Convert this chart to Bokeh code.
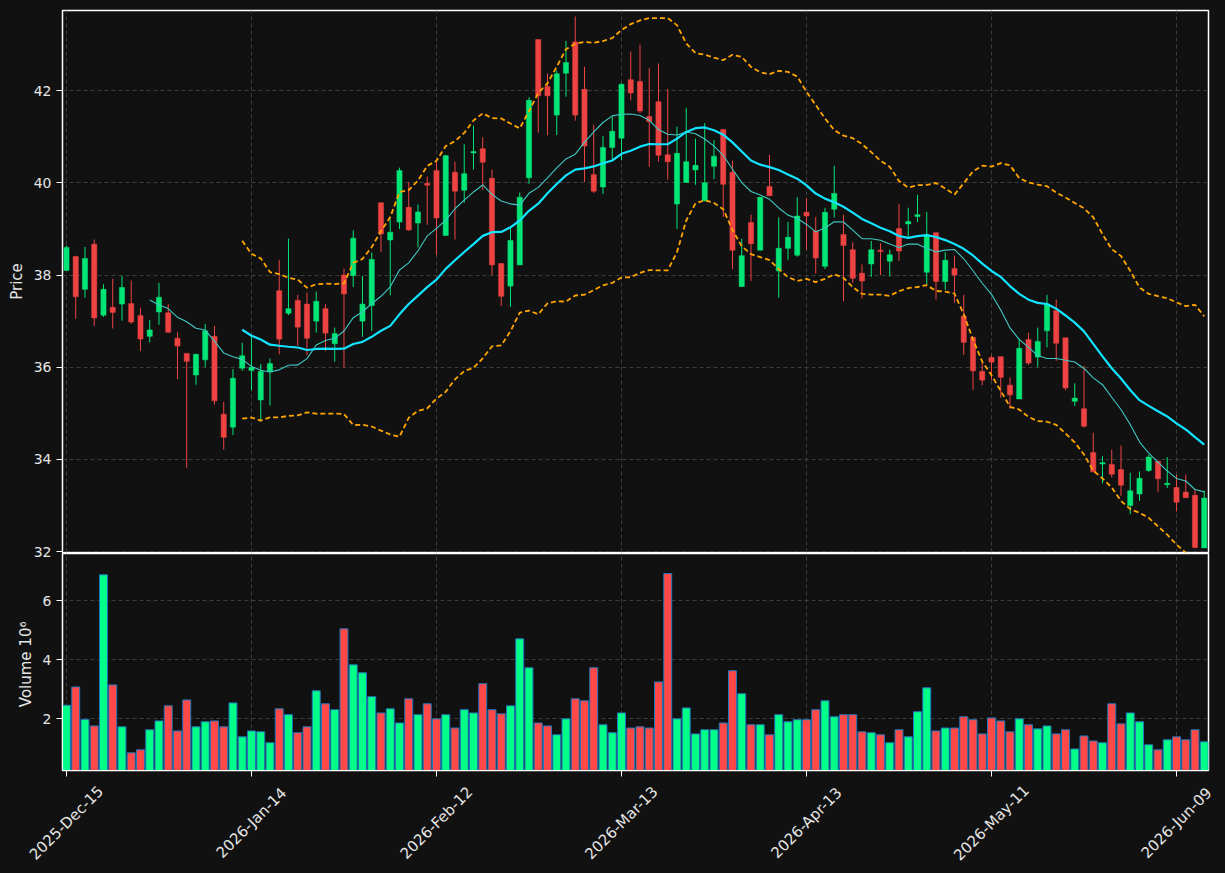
import math
import pandas as pd
from bokeh.plotting import figure
from bokeh.layouts import column
from bokeh.models import Range1d, FixedTicker, ColumnDataSource
from bokeh.core.properties import value
from bokeh.embed import file_html
from bokeh.resources import INLINE

# ---------------- data ----------------
opens = [38.10, 38.40, 37.69, 38.67, 37.13, 37.30, 37.37, 37.38, 37.12, 36.67,
         37.20, 37.18, 36.63, 36.30, 35.83, 36.16, 36.67, 34.98, 34.70, 35.98,
         35.93, 35.29, 35.90, 37.66, 37.17, 37.45, 37.37, 37.00, 37.27, 36.51,
         38.00, 37.99, 37.00, 37.34, 39.57, 38.76, 39.15, 39.47, 39.13, 39.99,
         40.27, 38.86, 40.23, 39.84, 40.65, 40.74, 40.10, 38.25, 37.76, 38.22,
         40.11, 43.11, 42.09, 41.47, 42.38, 43.06, 42.03, 40.18, 39.91, 40.77,
         40.97, 42.24, 42.20, 41.44, 41.76, 40.61, 39.54, 40.01, 40.28, 39.61,
         40.36, 41.16, 40.23, 37.75, 39.14, 38.54, 39.92, 38.09, 38.58, 38.43,
         39.36, 38.96, 38.19, 39.43, 38.88, 38.55, 38.04, 38.24, 38.54, 38.30,
         39.01, 39.11, 39.27, 38.06, 38.92, 37.86, 38.14, 37.11, 36.65, 35.91,
         36.21, 36.23, 35.61, 35.31, 36.60, 36.22, 36.79, 37.23, 36.64, 35.26,
         35.10, 34.15, 33.90, 33.89, 33.78, 33.00, 33.25, 33.76, 33.96, 33.45,
         33.39, 33.29, 33.22, 32.08]
highs = [38.64, 38.42, 38.61, 38.77, 37.80, 37.92, 37.98, 37.88, 37.29, 37.03,
         37.83, 37.37, 36.77, 36.30, 36.29, 36.94, 36.90, 35.25, 35.96, 36.53,
         36.70, 36.07, 36.19, 38.33, 38.79, 37.57, 37.62, 37.64, 37.37, 36.86,
         38.14, 38.97, 37.98, 38.49, 39.57, 39.21, 40.33, 40.02, 39.53, 40.14,
         40.50, 40.61, 40.46, 40.84, 41.24, 40.99, 40.29, 38.25, 39.05, 39.79,
         41.86, 43.11, 42.37, 42.44, 43.08, 43.61, 42.52, 41.26, 41.02, 41.44,
         42.16, 42.85, 43.00, 42.49, 42.59, 42.04, 41.22, 41.63, 40.96, 41.30,
         40.93, 41.16, 40.48, 38.79, 39.31, 39.69, 40.61, 39.25, 39.15, 39.69,
         39.67, 39.26, 39.46, 40.37, 39.31, 38.71, 38.23, 38.74, 38.69, 38.55,
         39.55, 39.46, 39.74, 39.37, 38.92, 38.50, 38.42, 37.57, 36.65, 36.09,
         36.26, 36.23, 35.78, 36.62, 36.75, 36.86, 37.57, 37.47, 36.64, 35.65,
         36.03, 34.58, 34.07, 34.21, 34.30, 33.71, 33.74, 34.10, 33.96, 34.05,
         33.67, 33.67, 33.35, 33.32]
lows = [38.10, 37.05, 37.51, 36.90, 37.09, 36.84, 37.01, 36.94, 36.35, 36.54,
        36.92, 36.74, 35.74, 33.82, 35.62, 36.01, 35.19, 34.21, 34.53, 35.92,
        35.50, 34.82, 35.17, 36.28, 37.13, 36.47, 36.26, 36.75, 36.35, 36.12,
        35.99, 37.74, 36.66, 36.79, 38.50, 37.56, 39.00, 38.96, 38.60, 39.09,
        38.43, 38.85, 38.77, 39.57, 40.29, 39.85, 38.00, 37.33, 37.31, 38.22,
        39.98, 41.09, 41.03, 41.04, 41.87, 41.35, 40.02, 39.78, 39.76, 40.52,
        40.49, 41.79, 41.51, 40.35, 40.46, 40.07, 39.00, 40.01, 39.96, 39.60,
        40.08, 39.26, 38.13, 37.74, 37.87, 38.54, 39.72, 37.51, 38.33, 38.40,
        38.55, 38.03, 38.13, 39.25, 37.43, 37.83, 37.49, 37.96, 38.00, 37.97,
        38.31, 38.83, 39.15, 37.80, 37.47, 37.68, 37.40, 36.27, 35.51, 35.61,
        35.72, 35.34, 35.10, 35.31, 36.05, 36.01, 36.43, 36.14, 35.50, 35.16,
        34.69, 33.73, 33.48, 33.61, 33.21, 32.81, 33.10, 33.73, 33.29, 33.38,
        32.87, 33.17, 32.07, 32.08]
closes = [38.60, 37.53, 38.36, 37.07, 37.69, 37.19, 37.73, 36.98, 36.61, 36.81,
          37.52, 36.76, 36.46, 36.13, 36.28, 36.79, 35.27, 34.48, 35.76, 36.25,
          36.00, 35.91, 36.08, 36.61, 37.27, 36.87, 36.63, 37.43, 36.74, 36.73,
          37.59, 38.80, 37.37, 38.34, 38.89, 38.93, 40.27, 38.98, 39.37, 39.95,
          39.24, 40.59, 39.82, 40.20, 40.68, 40.45, 38.22, 37.54, 38.75, 39.69,
          41.79, 41.89, 41.89, 42.37, 42.61, 41.47, 40.80, 39.82, 40.77, 41.12,
          42.14, 41.95, 41.56, 41.33, 40.60, 40.46, 40.64, 40.46, 40.38, 40.00,
          40.58, 39.97, 38.54, 38.42, 38.68, 39.69, 39.72, 38.58, 38.82, 39.28,
          39.28, 38.37, 39.36, 39.77, 38.64, 37.93, 37.87, 38.55, 38.51, 38.44,
          38.52, 39.16, 39.31, 38.87, 37.86, 38.32, 38.00, 36.54, 35.92, 35.72,
          36.11, 35.78, 35.40, 36.41, 36.09, 36.56, 37.37, 36.52, 35.55, 35.33,
          34.72, 33.73, 33.93, 33.68, 33.44, 33.32, 33.59, 34.05, 33.58, 33.48,
          33.07, 33.17, 32.09, 33.16]
volume_millions = [2.46, 3.08, 1.98, 1.76, 6.88, 3.15, 1.73, 0.85, 0.95, 1.63,
                   1.93, 2.44, 1.59, 2.64, 1.73, 1.90, 1.93, 1.73, 2.54, 1.39,
                   1.59, 1.56, 1.19, 2.34, 2.14, 1.53, 1.73, 2.95, 2.51, 2.31,
                   5.05, 3.83, 3.56, 2.75, 2.20, 2.34, 1.86, 2.68, 2.14, 2.51,
                   2.00, 2.14, 1.69, 2.31, 2.20, 3.19, 2.31, 2.17, 2.44, 4.71,
                   3.73, 1.86, 1.76, 1.46, 2.00, 2.68, 2.61, 3.73, 1.80, 1.53,
                   2.20, 1.69, 1.73, 1.69, 3.25, 6.92, 2.00, 2.37, 1.49, 1.63,
                   1.63, 1.86, 3.63, 2.85, 1.80, 1.80, 1.46, 2.14, 1.90, 1.97,
                   1.97, 2.31, 2.61, 2.07, 2.14, 2.14, 1.56, 1.53, 1.46, 1.19,
                   1.63, 1.39, 2.24, 3.05, 1.59, 1.69, 1.69, 2.07, 1.97, 1.49,
                   2.03, 1.93, 1.56, 2.00, 1.80, 1.66, 1.76, 1.49, 1.63, 0.98,
                   1.42, 1.25, 1.19, 2.51, 1.83, 2.20, 1.90, 1.12, 0.95, 1.29,
                   1.39, 1.29, 1.63, 1.22]
tick_positions = [0, 20, 40, 60, 80, 100, 120]
tick_labels = ["2025-Dec-15", "2026-Jan-14", "2026-Feb-12", "2026-Mar-13",
               "2026-Apr-13", "2026-May-11", "2026-Jun-09"]
price_ticks = [32, 34, 36, 38, 40, 42]
volume_ticks = [2, 4, 6]

# ---------------- derived ----------------
n = len(closes)
df = pd.DataFrame(dict(x=list(range(n)), open=opens, high=highs, low=lows,
                       close=closes, vol=volume_millions))
up = df.close >= df.open
df["body_top"] = df[["open", "close"]].max(axis=1)
df["body_bot"] = df[["open", "close"]].min(axis=1)
df["ccolor"] = ["#00e676" if u else "#ee4343" for u in up]
df["vcolor"] = ["#00ff88" if u else "#ff4848" for u in up]
df["ma10"] = df.close.rolling(10).mean()
df["ma20"] = df.close.rolling(20).mean()
sd = df.close.rolling(20).std(ddof=0)
df["upper"] = df.ma20 + 2 * sd
df["lower"] = df.ma20 - 2 * sd
src = ColumnDataSource(df)

BG = "#111111"
GRID = "#3d3d3d"
TXT = "#e6e6e6"
FONT = "DejaVu Sans"

W = 1225
LEFT, RIGHT = 62, 17
X0, X1 = -0.43, 123.46
x_range = Range1d(X0, X1)


def style(p):
    p.background_fill_color = BG
    p.border_fill_color = BG
    p.outline_line_color = "white"
    p.outline_line_width = 1.5
    for g in p.grid:
        g.grid_line_color = GRID
        g.grid_line_dash = "4 3"
        g.grid_line_width = 1
    for ax in p.axis:
        ax.axis_line_color = "white"
        ax.major_tick_line_color = "white"
        ax.minor_tick_line_color = None
        ax.major_tick_out = 6
        ax.major_tick_in = 0
        ax.major_label_text_color = TXT
        ax.major_label_text_font = FONT
        ax.major_label_text_font_size = "14px"
        ax.axis_label_text_color = TXT
        ax.axis_label_text_font = FONT
        ax.axis_label_text_font_style = "normal"
        ax.axis_label_text_font_size = "15px"


# ---------------- price panel ----------------
p1 = figure(width=W, height=562, x_range=x_range, y_range=Range1d(31.98, 43.74),
            output_backend="svg", toolbar_location=None, x_axis_location=None,
            min_border_left=LEFT, min_border_right=RIGHT, min_border_top=10,
            min_border_bottom=10)
p1.xgrid.ticker = FixedTicker(ticks=tick_positions)
p1.yaxis.ticker = FixedTicker(ticks=price_ticks)
p1.yaxis.axis_label = "Price"
style(p1)

p1.segment(x0="x", y0="high", x1="x", y1="low", color="ccolor", line_width=1, source=src)
p1.vbar(x="x", top="body_top", bottom="body_bot", width=0.56, fill_color="ccolor",
        line_color="ccolor", line_width=0.5, source=src)
p1.line("x", "ma10", source=src, line_color="#3fc9c4", line_width=1.1)
p1.line("x", "ma20", source=src, line_color="#12e4ff", line_width=2.2)
p1.line("x", "upper", source=src, line_color="#ffa500", line_width=1.8, line_dash="5 3")
p1.line("x", "lower", source=src, line_color="#ffa500", line_width=1.8, line_dash="5 3")

# ---------------- volume panel ----------------
p2 = figure(width=W, height=321, x_range=x_range, y_range=Range1d(0.25, 7.6),
            output_backend="svg", toolbar_location=None,
            min_border_left=LEFT, min_border_right=RIGHT, min_border_top=1,
            min_border_bottom=103)
p2.margin = (-10, 0, 0, 0)
p2.xaxis.ticker = FixedTicker(ticks=tick_positions)
p2.xaxis.major_label_overrides = {t: "" for t in tick_positions}
p2.yaxis.ticker = FixedTicker(ticks=volume_ticks)
p2.yaxis.axis_label = "Volume  10\u2076"
style(p2)
p2.xaxis.major_label_text_font_size = "0px"
p2.border_fill_alpha = 0

p2.vbar(x="x", top="vol", bottom=0, width=0.86, fill_color="vcolor",
        line_color="#2176b8", line_width=1, source=src)

# ---------------- date labels (transparent overlay, centred on ticks) ----------------
ppu = (W - LEFT - RIGHT) / (X1 - X0)
p3 = figure(width=W, height=91, x_range=Range1d(X0 - LEFT / ppu, X1 + RIGHT / ppu),
            y_range=Range1d(0, 1), output_backend="svg", toolbar_location=None,
            x_axis_location=None, y_axis_location=None, min_border=0,
            min_border_left=0, min_border_right=0, min_border_top=0, min_border_bottom=0)
p3.frame_align = False
p3.margin = (-91, 0, 0, 0)
p3.grid.visible = False
p3.outline_line_color = None
p3.background_fill_alpha = 0
p3.border_fill_alpha = 0
label_src = ColumnDataSource(dict(x=tick_positions, y=[0.555] * len(tick_positions),
                                  text=tick_labels))
p3.text(x="x", y="y", text="text", source=label_src, angle=math.pi / 4,
        text_align="center", text_baseline="middle", text_color=TXT,
        text_font=value(FONT), text_font_size="15px")

layout = column(p1, p2, p3, spacing=0, styles={"background-color": BG})
with open("out.html", "w") as f:
    f.write(file_html(layout, INLINE))
